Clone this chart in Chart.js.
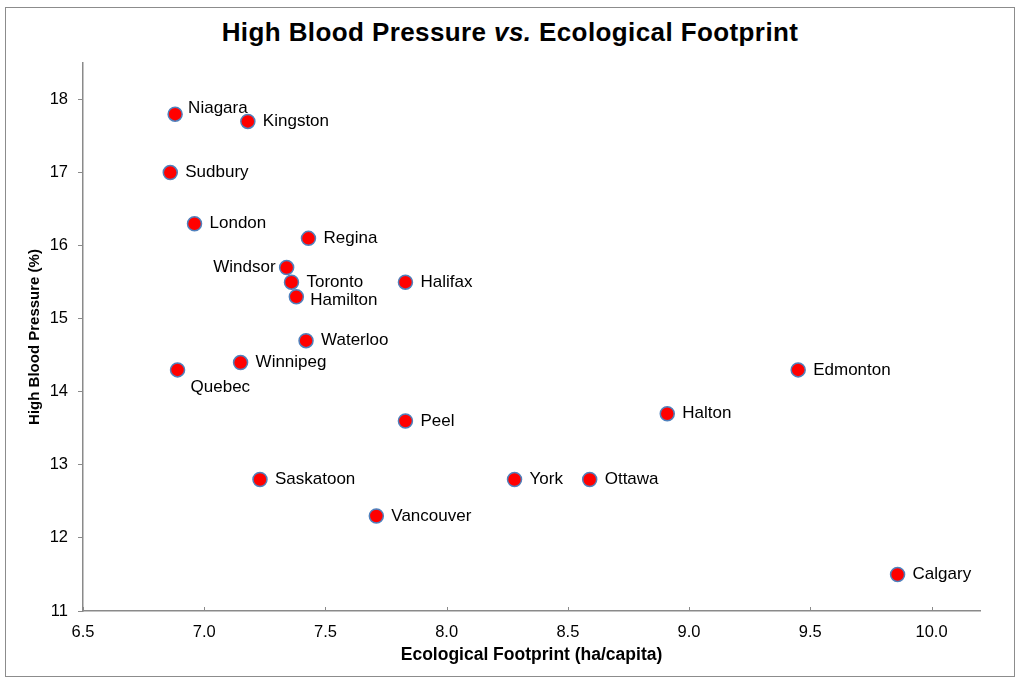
<!DOCTYPE html>
<html>
<head>
<meta charset="utf-8">
<script src="https://cdn.jsdelivr.net/npm/chart.js@4.4.1/dist/chart.umd.min.js"></script>
<style>
  html, body { margin: 0; padding: 0; background: #fff; }
  #wrap { position: relative; width: 1024px; height: 685px; overflow: hidden; }
  #frame { position: absolute; left: 5px; top: 7px; width: 1008px; height: 668px; border: 1.5px solid #8c8c8c; }
  #title { position: absolute; left: 0; width: 1020px; top: 17px; text-align: center; letter-spacing: 0.4px;
           font: bold 26px "Liberation Sans", Arial, sans-serif; color: #000; }
  #chart { position: absolute; left: 0; top: 0; }
</style>
</head>
<body>
<div id="wrap">
  <div id="frame"></div>
  <div id="title">High Blood Pressure <i>vs.</i> Ecological Footprint</div>
  <canvas id="chart" width="1024" height="685"></canvas>
</div>
<script>
// cities, footprint (ha/capita) and high blood pressure (%)
const cities = ['Niagara', 'Kingston', 'Sudbury', 'London', 'Regina', 'Windsor', 'Toronto', 'Hamilton', 'Halifax',
    'Waterloo', 'Winnipeg', 'Quebec', 'Edmonton', 'Halton', 'Peel', 'Saskatoon', 'York', 'Ottawa', 'Vancouver', 'Calgary'];
const footprint = [6.88, 7.18, 6.86, 6.96, 7.43, 7.34, 7.36, 7.38, 7.83,
    7.42, 7.15, 6.89, 9.45, 8.91, 7.83, 7.23, 8.28, 8.59, 7.71, 9.86];
const bloodPressure = [17.8, 17.7, 17.0, 16.3, 16.1, 15.7, 15.5, 15.3, 15.5,
    14.7, 14.4, 14.3, 14.3, 13.7, 13.6, 12.8, 12.8, 12.8, 12.3, 11.5];
const xTicks = [6.5, 7.0, 7.5, 8.0, 8.5, 9.0, 9.5, 10.0];
const yTicks = [11, 12, 13, 14, 15, 16, 17, 18];

const axisGray = '#8a8a8a';
const font = '"Liberation Sans", Arial, sans-serif';

// where a label sits relative to its marker (default: right of it)
const labelPlace = {
    Niagara: { dx: 13, dy: -6 },
    Windsor: { dx: -11, dy: 0, align: 'right' },
    Quebec: { dx: 13, dy: 17 },
    Hamilton: { dx: 14, dy: 3 }
};

const pointLabels = {
    id: 'pointLabels',
    afterDatasetsDraw(chart) {
        const ctx = chart.ctx;
        const meta = chart.getDatasetMeta(0);
        ctx.save();
        ctx.font = '17px ' + font;
        ctx.fillStyle = '#000';
        ctx.textBaseline = 'middle';
        meta.data.forEach((pt, i) => {
            const p = labelPlace[cities[i]] || { dx: 15, dy: 0 };
            ctx.textAlign = p.align || 'left';
            ctx.fillText(cities[i], pt.x + p.dx, pt.y + p.dy);
        });
        ctx.restore();
    }
};

// small inward tick marks on the x axis
const xTickMarks = {
    id: 'xTickMarks',
    afterDraw(chart) {
        const ctx = chart.ctx;
        const x = chart.scales.x;
        ctx.save();
        ctx.strokeStyle = axisGray;
        ctx.lineWidth = 1;
        xTicks.forEach(v => {
            const px = Math.round(x.getPixelForValue(v)) + 0.5;
            ctx.beginPath();
            ctx.moveTo(px, x.top);
            ctx.lineTo(px, x.top - 4);
            ctx.stroke();
        });
        ctx.restore();
    }
};

new Chart(document.getElementById('chart'), {
    type: 'scatter',
    data: {
        datasets: [{
            label: 'High Blood Pressure',
            data: footprint.map((v, i) => ({ x: v, y: bloodPressure[i] })),
            pointRadius: 7,
            pointHoverRadius: 7,
            pointBackgroundColor: '#ff0000',
            pointBorderColor: '#4f81bd',
            pointBorderWidth: 1.5
        }]
    },
    options: {
        responsive: false,
        animation: false,
        layout: { padding: { left: 0, right: 44, top: 63, bottom: 0 } },
        plugins: {
            legend: { display: false },
            tooltip: { enabled: false }
        },
        scales: {
            x: {
                type: 'linear',
                min: 6.5,
                max: 10.2,
                afterBuildTicks: s => { s.ticks = xTicks.map(v => ({ value: v })); },
                afterFit: s => { s.height = 74; },
                border: { color: axisGray, width: 1.5 },
                grid: { drawOnChartArea: false, drawTicks: false },
                ticks: {
                    color: '#000',
                    padding: 12,
                    font: { family: font, size: 16.5 },
                    callback: v => v.toFixed(1)
                },
                title: {
                    display: true,
                    text: 'Ecological Footprint (ha/capita)',
                    color: '#000',
                    font: { family: font, size: 17.5, weight: 'bold' },
                    padding: { top: 0, bottom: 19 }
                }
            },
            y: {
                min: 11,
                max: 18.5,
                afterBuildTicks: s => { s.ticks = yTicks.map(v => ({ value: v })); },
                afterFit: s => { s.width = 83; },
                border: { color: axisGray, width: 1.5 },
                grid: { drawOnChartArea: false, color: axisGray, tickLength: 5 },
                ticks: {
                    color: '#000',
                    padding: 10,
                    font: { family: font, size: 16.5 }
                },
                title: {
                    display: true,
                    text: 'High Blood Pressure (%)',
                    color: '#000',
                    font: { family: font, size: 15, weight: 'bold' },
                    padding: { top: 26, bottom: 0 }
                }
            }
        }
    },
    plugins: [pointLabels, xTickMarks]
});
</script>
</body>
</html>
